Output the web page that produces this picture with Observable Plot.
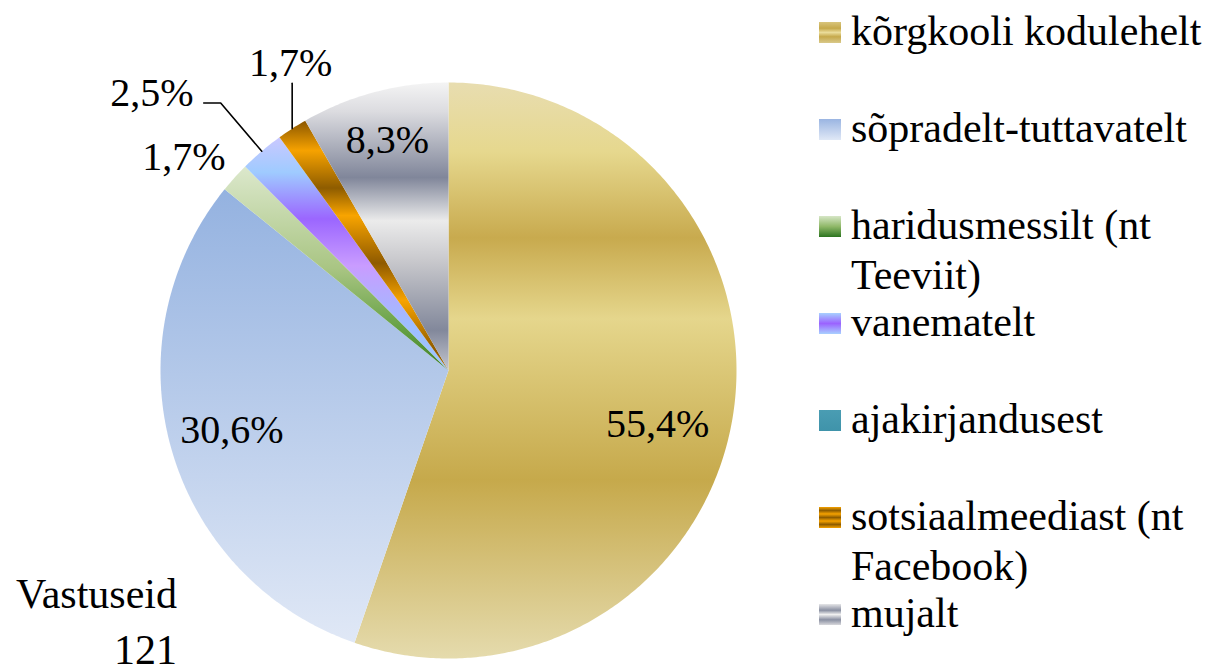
<!DOCTYPE html>
<html><head><meta charset="utf-8">
<script src="https://cdn.jsdelivr.net/npm/d3@7"></script>
<script src="https://cdn.jsdelivr.net/npm/@observablehq/plot@0.6"></script>
<style>
html,body{margin:0;padding:0;background:#fff;font-family:"Liberation Serif";}
#wrap{position:relative;width:1212px;height:669px;overflow:hidden;color:#000;font-family:"Liberation Serif";}
#chart{position:absolute;left:0;top:0;}
.legend{position:absolute;left:819px;top:6px;font-family:"Liberation Serif";font-size:42px;}
.item{position:relative;height:97px;}
.sw{position:absolute;left:0;top:16px;width:22px;height:21px;}
.lt{position:absolute;left:32px;top:0;width:364px;line-height:50px;font-family:"Liberation Serif";}
#total{position:absolute;left:0;top:566px;width:177px;text-align:right;line-height:56px;font-family:"Liberation Serif";font-size:42px;}
</style></head><body>
<div id="wrap"><div id="chart"></div><div class="legend" id="legend"></div><div id="total"></div></div>
<script>
// ---- data ----
const categories = ["kõrgkooli kodulehelt","sõpradelt-tuttavatelt","haridusmessilt (nt Teeviit)","vanematelt","ajakirjandusest","sotsiaalmeediast (nt Facebook)","mujalt"];
const percents = [55.4, 30.6, 1.7, 2.5, 0, 1.7, 8.3];
const totalLabel = "Vastuseid";
const totalResponses = 121;

// ---- styles (gradient stops per slice) ----
const gradients = [
  [[0,"#e8ddb0"],[0.12,"#e6d88e"],[0.27,"#c8aa4e"],[0.41,"#e5d68c"],[0.69,"#c6a94b"],[1,"#e5dbad"]],
  [[0,"#94b2e0"],[1,"#e0e8f6"]],
  [[0,"#dce8cc"],[0.5,"#a9c583"],[0.8,"#64a043"],[1,"#3f7f2a"]],
  [[0,"#cac8ff"],[0.15,"#9fcbff"],[0.35,"#9b66ff"],[0.55,"#c99cff"],[0.8,"#9ebdff"],[1,"#9ec6ff"]],
  [[0,"#4a9db3"],[1,"#3f93aa"]],
  [[0,"#8a5600"],[0.12,"#f6a200"],[0.27,"#8e5c00"],[0.38,"#f8a400"],[0.57,"#8f5a00"],[0.72,"#f7a300"],[0.92,"#8e5a00"],[1,"#b07000"]],
  [[0,"#f4f4f4"],[0.1,"#dcdce0"],[0.33,"#80869a"],[0.48,"#ebebeb"],[0.62,"#c8c8cc"],[0.86,"#82889b"],[1,"#c4c6cf"]]
];
const swatchGradients = [
  [[0,"#d8c57c"],[0.3,"#c6a94c"],[0.5,"#eadc9a"],[0.7,"#c6a94c"],[1,"#d9c98a"]],
  [[0,"#9ab5e2"],[1,"#e0e8f6"]],
  [[0,"#d6e6c6"],[0.5,"#8fb868"],[1,"#2c7420"]],
  [[0,"#a8d0ff"],[0.5,"#9b63ff"],[1,"#a8d0ff"]],
  [[0,"#4a9db3"],[1,"#3f93aa"]],
  [[0,"#f6a200"],[0.17,"#8e5c00"],[0.33,"#f6a200"],[0.5,"#8e5c00"],[0.67,"#f6a200"],[0.83,"#8e5c00"],[1,"#f6a200"]],
  [[0,"#e6e6e8"],[0.3,"#8a90a2"],[0.5,"#f0f0f0"],[0.75,"#8a90a2"],[1,"#d8d8dc"]]
];
// label placement relative to each slice: radius factor and angle offset (deg)
const labelLayout = [
  {r:0.75, da:5}, {r:0.78, da:0.6}, {r:1.18, da:-3.2}, {r:1.41, da:-6.5}, null, {r:1.2, da:5.7}, {r:0.826, da:0}
];
const leaderLayout = {3:{type:"elbow", k:1.22, gap:0.18}, 5:{type:"vertical", gap:0.07}};

const fmt = v => v.toFixed(1).replace(".", ",") + "%";

// ---- geometry from data ----
const arcs = d3.pie().sort(null).value(d => d)(percents);
const slicePts = arcs.map(a => {
  const span = a.endAngle - a.startAngle;
  if (span <= 0) return [];
  const n = Math.max(2, Math.ceil(span / 0.01));
  const pts = [{x:0, y:0}];
  for (let k = 0; k <= n; k++) {
    const t = a.startAngle + span * k / n;
    pts.push({x: Math.sin(t), y: Math.cos(t)});
  }
  pts.push({x:0, y:0});
  return pts;
});
const labelData = [];
const leaderData = [];
arcs.forEach((a, i) => {
  const L = labelLayout[i];
  if (!L || percents[i] <= 0) return;
  const mid = (a.startAngle + a.endAngle) / 2;
  const la = mid + L.da * Math.PI / 180;
  const lx = L.r * Math.sin(la), ly = L.r * Math.cos(la);
  labelData.push({x: lx, y: ly, text: fmt(percents[i])});
  const ld = leaderLayout[i];
  if (ld) {
    const p0 = {x: Math.sin(mid), y: Math.cos(mid), id: i};
    if (ld.type === "elbow") {
      const p1 = {x: ld.k * Math.sin(mid), y: ld.k * Math.cos(mid), id: i};
      leaderData.push(p0, p1, {x: lx + ld.gap, y: p1.y, id: i});
    } else {
      leaderData.push(p0, {x: p0.x, y: ly - ld.gap, id: i});
    }
  }
});

const marks = [];
slicePts.forEach((pts, i) => {
  if (pts.length) marks.push(Plot.line(pts, {x: "x", y: "y", fill: `url(#grad${i})`, stroke: "none", curve: "linear"}));
});
marks.push(Plot.line(leaderData, {x: "x", y: "y", z: "id", stroke: "#000", strokeWidth: 1.6, curve: "linear"}));
marks.push(Plot.text(labelData, {x: "x", y: "y", text: "text", fontSize: 40, fontFamily: "Liberation Serif", fill: "#000"}));

const svg = Plot.plot({
  width: 810, height: 669,
  marginLeft: 160, marginRight: 74, marginTop: 82, marginBottom: 11,
  x: {domain: [-1, 1], axis: null},
  y: {domain: [-1, 1], axis: null},
  style: {background: "transparent", overflow: "visible", fontFamily: "Liberation Serif"},
  marks
});
const defs = d3.select(svg).insert("defs", ":first-child");
gradients.forEach((stops, i) => {
  const g = defs.append("linearGradient").attr("id", `grad${i}`).attr("x1", 0).attr("y1", 0).attr("x2", 0).attr("y2", 1);
  stops.forEach(([o, c]) => g.append("stop").attr("offset", o).attr("stop-color", c));
});
document.getElementById("chart").appendChild(svg);

// ---- legend ----
const legend = document.getElementById("legend");
categories.forEach((c, i) => {
  const item = document.createElement("div"); item.className = "item";
  const sw = document.createElement("div"); sw.className = "sw";
  sw.style.background = `linear-gradient(to bottom, ${swatchGradients[i].map(([o, col]) => `${col} ${o*100}%`).join(", ")})`;
  const t = document.createElement("div"); t.className = "lt"; t.textContent = c;
  item.appendChild(sw); item.appendChild(t); legend.appendChild(item);
});
const tot = document.getElementById("total");
tot.appendChild(document.createTextNode(totalLabel));
tot.appendChild(document.createElement("br"));
tot.appendChild(document.createTextNode(String(totalResponses)));
</script>
</body></html>
